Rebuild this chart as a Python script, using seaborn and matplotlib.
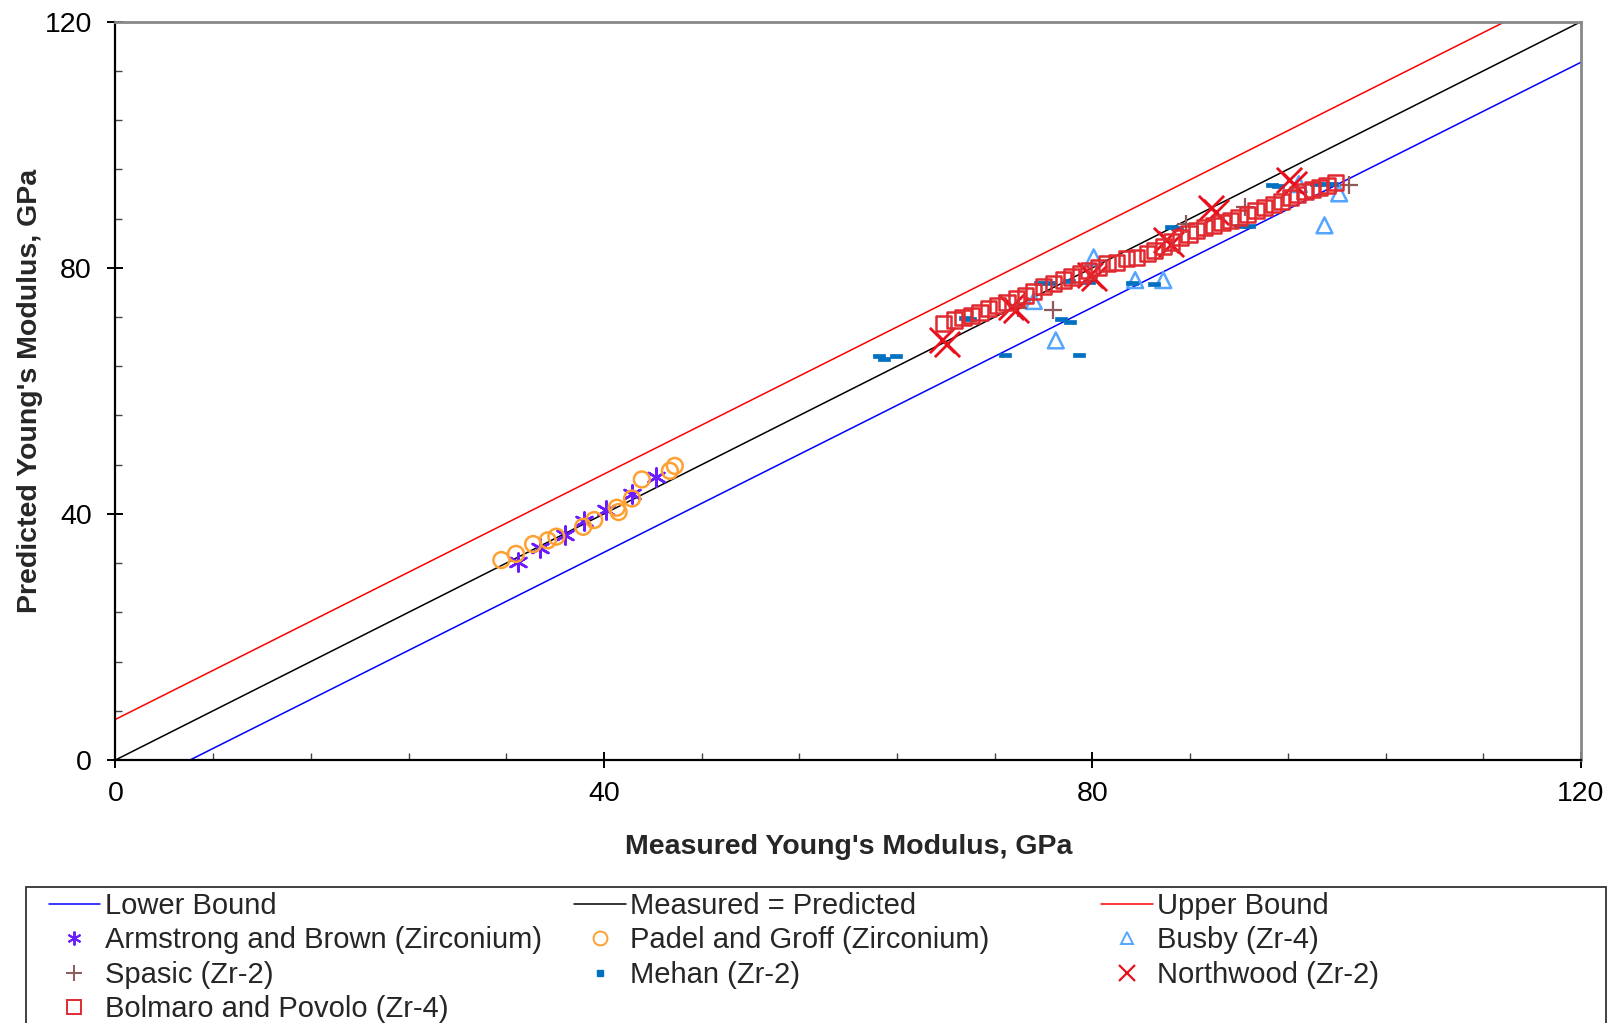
import matplotlib
matplotlib.use("Agg")
import matplotlib.pyplot as plt
from matplotlib.lines import Line2D
from matplotlib.patches import Rectangle
from matplotlib.ticker import MultipleLocator
import seaborn as sns
import pandas as pd

# ---------------- data ----------------
line_x = [0, 120]
lower_y = [-6.08, 113.4]
equal_y = [0, 120]
upper_y = [6.6, 126.2]

armstrong_x = [33.0, 34.8, 36.8, 38.4, 40.2, 42.3, 44.3]
armstrong_y = [32.1, 34.4, 36.5, 38.9, 40.6, 43.3, 46.0]

padel_x = [31.6, 32.8, 34.2, 35.4, 36.1, 38.3, 39.2, 41.05, 41.2, 42.3, 43.1, 45.4, 45.8]
padel_y = [32.5, 33.5, 35.1, 35.7, 36.3, 37.9, 39.0, 41.0, 40.3, 42.5, 45.6, 47.0, 47.8]

busby_x = [75.2, 77.0, 80.1, 83.5, 85.8, 96.9, 99.0, 100.2]
busby_y = [74.6, 68.2, 81.7, 78.0, 78.0, 93.6, 86.9, 92.1]

spasic_x = [73.9, 76.8, 87.7, 92.5, 101.0]
spasic_y = [73.5, 73.1, 87.1, 89.8, 93.4]

mehan_x = [62.5, 62.9, 63.9, 69.6, 70.0, 72.8, 75.7, 76.5, 78.1, 77.4, 78.2, 78.9,
           79.7, 83.2, 85.0, 86.4, 86.9, 92.1, 92.8, 94.7, 95.2, 98.3, 99.0, 99.6]
mehan_y = [65.7, 65.2, 65.7, 71.8, 71.6, 65.8, 77.6, 77.6, 77.8, 71.6, 71.2, 65.9,
           77.7, 77.6, 77.4, 86.7, 86.5, 86.8, 86.8, 93.4, 93.3, 93.6, 93.6, 93.6]

northwood_x = [67.7, 68.1, 73.3, 73.7, 79.8, 80.1, 86.0, 86.4, 89.7, 90.1, 96.1, 96.5]
northwood_y = [68.2, 67.6, 73.6, 73.1, 78.8, 78.3, 84.5, 83.9, 89.7, 89.1, 94.2, 93.6]

bolmaro_x = [67.8, 68.7, 69.4, 70.1, 70.8, 71.5, 72.2, 73.0, 73.8, 74.5, 75.2, 76.0,
             76.8, 77.6, 78.3, 79.0, 79.7, 80.5, 81.2, 82.0, 82.8, 83.6, 84.5, 85.1,
             85.8, 86.5, 87.2, 87.9, 88.5, 89.2, 89.9, 90.6, 91.3, 92.0, 92.7, 93.4,
             94.1, 94.8, 95.5, 96.2, 96.8, 97.4, 98.0, 98.6, 99.2, 99.9]
bolmaro_y = [70.9, 71.5, 71.9, 72.3, 72.7, 73.4, 73.9, 74.3, 75.0, 75.5, 76.1, 76.9,
             77.4, 78.0, 78.5, 79.0, 79.6, 80.1, 80.7, 80.9, 81.5, 81.7, 82.3, 82.8,
             83.4, 84.2, 84.9, 85.5, 86.1, 86.5, 86.9, 87.3, 87.7, 88.2, 88.7, 89.3,
             89.8, 90.3, 90.8, 91.4, 91.9, 92.4, 92.7, 93.0, 93.4, 93.9]

labels = ["Lower Bound", "Measured = Predicted", "Upper Bound",
          "Armstrong and Brown (Zirconium)", "Padel and Groff (Zirconium)", "Busby (Zr-4)",
          "Spasic (Zr-2)", "Mehan (Zr-2)", "Northwood (Zr-2)", "Bolmaro and Povolo (Zr-4)"]
ticks = [0, 40, 80, 120]

# ---------------- style ----------------
sns.set_style("white")
plt.rcParams["font.family"] = ["Liberation Sans", "DejaVu Sans"]

FS = 20.5
fig = plt.figure(figsize=(16.17, 10.23), dpi=100)
ax = fig.add_axes([0.0714, 0.2571, 0.9063, 0.7217])

c_lower, c_equal, c_upper = "#0000FF", "#000000", "#FF0000"
c_arm, c_pad, c_bus = "#6A1BFF", "#FFA033", "#55A5FF"
c_spa, c_meh, c_nor, c_bol = "#8C5A5A", "#0070C0", "#E8101C", "#E02A30"

rect = [(-1, -0.42), (1, -0.42), (1, 0.42), (-1, 0.42), (-1, -0.42)]
asterisk = (6, 2, 0)

sns.lineplot(x=line_x, y=lower_y, color=c_lower, lw=1.1, ax=ax)
sns.lineplot(x=line_x, y=equal_y, color=c_equal, lw=1.1, ax=ax)
sns.lineplot(x=line_x, y=upper_y, color=c_upper, lw=1.1, ax=ax)

sns.scatterplot(x=armstrong_x, y=armstrong_y, marker=asterisk, s=170, color=c_arm,
                linewidth=1.8, ax=ax, zorder=3)
sns.scatterplot(x=padel_x, y=padel_y, marker="o", s=130, facecolor="none",
                edgecolor=c_pad, linewidth=1.8, ax=ax, zorder=3)
sns.scatterplot(x=busby_x, y=busby_y, marker="^", s=130, facecolor="none",
                edgecolor=c_bus, linewidth=1.8, ax=ax, zorder=3)
sns.scatterplot(x=spasic_x, y=spasic_y, marker="+", s=160, color=c_spa,
                linewidth=1.6, ax=ax, zorder=3)
sns.scatterplot(x=mehan_x, y=mehan_y, marker=rect, s=70, color=c_meh,
                edgecolor=c_meh, linewidth=0.5, ax=ax, zorder=3)
sns.scatterplot(x=northwood_x, y=northwood_y, marker="x", s=330, color=c_nor,
                linewidth=2.0, ax=ax, zorder=3)
sns.scatterplot(x=bolmaro_x, y=bolmaro_y, marker="s", s=120, facecolor="none",
                edgecolor=c_bol, linewidth=1.8, ax=ax, zorder=3)

ax.set_xlim(0, 120)
ax.set_ylim(0, 120)
ax.set_xticks(ticks)
ax.set_yticks(ticks)
ax.xaxis.set_minor_locator(MultipleLocator(8))
ax.yaxis.set_minor_locator(MultipleLocator(8))
ax.tick_params(which="major", direction="inout", length=12, width=1.4,
               labelsize=FS, colors="black")
ax.tick_params(axis="x", which="major", pad=9)
ax.tick_params(axis="y", which="major", pad=11)
ax.tick_params(which="minor", direction="in", length=5, width=1.0, colors="#444444")
ax.tick_params(axis="x", which="both", bottom=True)
ax.tick_params(axis="y", which="both", left=True)

for side in ["left", "bottom"]:
    ax.spines[side].set_color("black")
    ax.spines[side].set_linewidth(1.6)
for side in ["top", "right"]:
    ax.spines[side].set_color("#888888")
    ax.spines[side].set_linewidth(2.0)

ax.set_xlabel("Measured Young's Modulus, GPa", fontsize=FS, fontweight="bold")
ax.set_ylabel("Predicted Young's Modulus, GPa", fontsize=FS, fontweight="bold")
ax.xaxis.set_label_coords(0.5, -0.100)
ax.yaxis.set_label_coords(-0.0495, 0.5)

# ---------------- legend ----------------
H = [
    Line2D([], [], color=c_lower, lw=1.1),
    Line2D([], [], color=c_equal, lw=1.1),
    Line2D([], [], color=c_upper, lw=1.1),
    Line2D([], [], ls="none", marker=asterisk, color=c_arm, ms=10, mew=1.4),
    Line2D([], [], ls="none", marker="o", mfc="none", mec=c_pad, ms=10, mew=1.4),
    Line2D([], [], ls="none", marker="^", mfc="none", mec=c_bus, ms=9, mew=1.4),
    Line2D([], [], ls="none", marker="+", color=c_spa, ms=11, mew=1.4),
    Line2D([], [], ls="none", marker="s", color=c_meh, ms=4.5),
    Line2D([], [], ls="none", marker="x", color=c_nor, ms=11, mew=1.6),
    Line2D([], [], ls="none", marker="s", mfc="none", mec=c_bol, ms=10, mew=1.4),
]
cols = [[0, 3, 6, 9], [1, 4, 7], [2, 5, 8]]
col_x = [48.5, 574, 1101]
W, Hpx = 1617, 1023
top_px = 892
for xs, idx in zip(col_x, cols):
    leg = fig.legend([H[i] for i in idx], [labels[i] for i in idx],
                     loc="upper left", bbox_to_anchor=(xs / W, 1 - top_px / Hpx),
                     bbox_transform=fig.transFigure, frameon=False, fontsize=21,
                     borderpad=0, borderaxespad=0, handlelength=1.78,
                     handletextpad=0.15, labelspacing=0.22, markerfirst=True)
fig.patches.append(Rectangle((26 / W, -0.05), (1606 - 26) / W, (1 - 887 / Hpx) + 0.05,
                             transform=fig.transFigure, fill=False,
                             edgecolor="#333333", linewidth=1.3))

fig.savefig("out.png", dpi=100)
